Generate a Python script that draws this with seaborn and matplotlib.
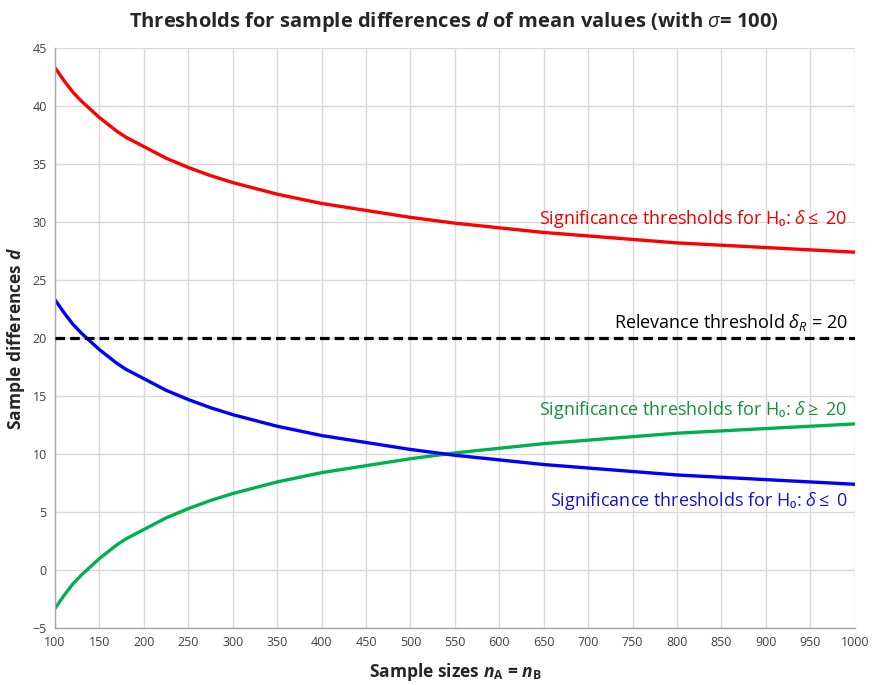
import matplotlib
matplotlib.use("Agg")
import matplotlib.pyplot as plt
import seaborn as sns
import pandas as pd
import numpy as np

# Data
n_values = [100, 110, 120, 130, 140, 150, 160, 170, 180, 190, 200, 225, 250, 275,
            300, 325, 350, 375, 400, 450, 500, 550, 600, 650, 700, 750, 800,
            850, 900, 950, 1000]
red_h0_le20 = [43.3, 42.2, 41.2, 40.4, 39.7, 39.0, 38.4, 37.8, 37.3, 36.9, 36.5,
               35.5, 34.7, 34.0, 33.4, 32.9, 32.4, 32.0, 31.6, 31.0, 30.4,
               29.9, 29.5, 29.1, 28.8, 28.5, 28.2, 28.0, 27.8, 27.6, 27.4]
green_h0_ge20 = [-3.3, -2.2, -1.2, -0.4, 0.3, 1.0, 1.6, 2.2, 2.7, 3.1, 3.5,
                 4.5, 5.3, 6.0, 6.6, 7.1, 7.6, 8.0, 8.4, 9.0, 9.6,
                 10.1, 10.5, 10.9, 11.2, 11.5, 11.8, 12.0, 12.2, 12.4, 12.6]
blue_h0_le0 = [23.3, 22.2, 21.2, 20.4, 19.7, 19.0, 18.4, 17.8, 17.3, 16.9, 16.5,
               15.5, 14.7, 14.0, 13.4, 12.9, 12.4, 12.0, 11.6, 11.0, 10.4,
               9.9, 9.5, 9.1, 8.8, 8.5, 8.2, 8.0, 7.8, 7.6, 7.4]
relevance = 20
x_ticks = list(range(100, 1001, 50))
y_ticks = list(range(-5, 46, 5))

sns.set_theme(style="whitegrid")
plt.rcParams['font.family'] = ['Open Sans', 'DejaVu Sans']
plt.rcParams['mathtext.fontset'] = 'custom'
plt.rcParams['mathtext.rm'] = 'Open Sans'
plt.rcParams['mathtext.it'] = 'Open Sans:italic'
plt.rcParams['mathtext.bf'] = 'Open Sans:bold'
try:
    plt.rcParams['mathtext.bfit'] = 'Open Sans:bold:italic'
except Exception:
    pass

df = pd.DataFrame({
    "n": n_values * 3,
    "d": red_h0_le20 + green_h0_ge20 + blue_h0_le0,
    "series": ["red"] * len(n_values) + ["green"] * len(n_values) + ["blue"] * len(n_values),
})
palette = {"red": "#ff0000", "green": "#00b050", "blue": "#0000ff"}

fig = plt.figure(figsize=(8.73, 6.85), dpi=100)
ax = fig.add_axes([0.063, 0.083, 0.916, 0.847])

sns.lineplot(data=df, x="n", y="d", hue="series", palette=palette,
             linewidth=2.4, legend=False, ax=ax)
ax.axhline(relevance, color="black", linestyle=(0, (3, 1.6)), linewidth=2.3, zorder=3)

ax.set_xlim(100, 1000)
ax.set_ylim(-5, 45)
ax.set_xticks(x_ticks)
ax.set_yticks(y_ticks)
ax.tick_params(axis='both', labelsize=9, colors="#404040", length=0, pad=6)
ax.grid(True, color="#d9d9d9", linewidth=1)
for s in ["top", "right"]:
    ax.spines[s].set_visible(False)
for s in ["left", "bottom"]:
    ax.spines[s].set_color("#a6a6a6")
    ax.spines[s].set_linewidth(1)

ax.set_xlabel(r"Sample sizes $\mathbfit{n}_\mathbf{A}$ = $\mathbfit{n}_\mathbf{B}$",
              fontsize=12.5, fontweight="bold", labelpad=8)
ax.set_ylabel(r"Sample differences $\mathbfit{d}$", fontsize=12.5, fontweight="bold", labelpad=4)
fig.suptitle(r"Thresholds for sample differences $\mathbfit{d}$ of mean values (with $\sigma$= 100)",
             fontsize=14.5, fontweight="bold", x=0.52, y=0.985)

fs = 13
ax.text(992, 30.3, r"Significance thresholds for H₀: $\delta\leq$ 20", color="#f00000",
        fontsize=fs, ha="right", va="center")
ax.text(992, 21.3, r"Relevance threshold $\delta_R$ = 20", color="black",
        fontsize=fs, ha="right", va="center")
ax.text(992, 13.8, r"Significance thresholds for H₀: $\delta\geq$ 20", color="#14923a",
        fontsize=fs, ha="right", va="center")
ax.text(992, 6.0, r"Significance thresholds for H₀: $\delta\leq$ 0", color="#1414d0",
        fontsize=fs, ha="right", va="center")

fig.savefig("out.png", dpi=100)
